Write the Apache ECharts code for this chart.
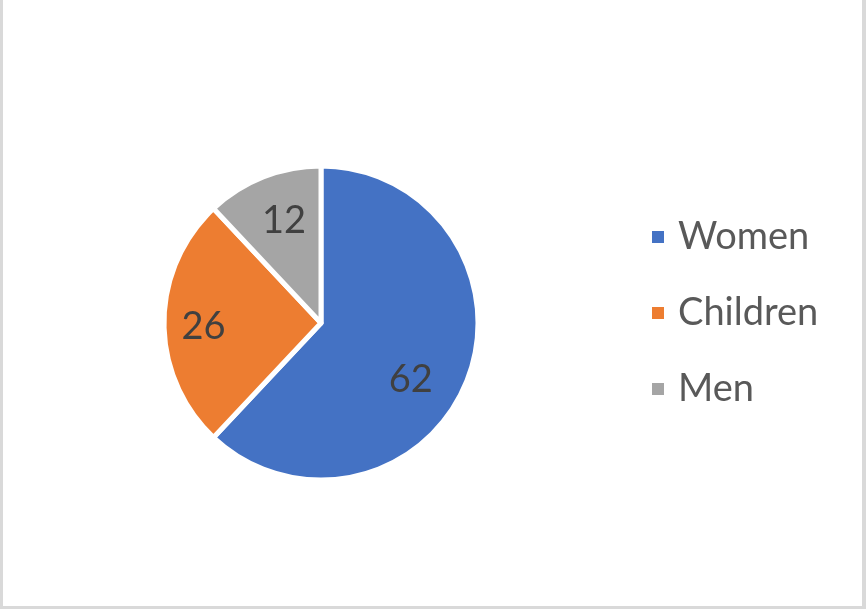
<!DOCTYPE html>
<html><head><meta charset="utf-8">
<script src="https://cdn.jsdelivr.net/npm/echarts@6/dist/echarts.min.js"></script>
<style>
html,body{margin:0;padding:0;background:#fff;}
#wrap{width:866px;height:609px;box-sizing:border-box;border-left:3px solid #d9d9d9;border-right:4px solid #d9d9d9;border-bottom:3px solid #d9d9d9;position:relative;}
#c{position:absolute;left:-3px;top:0;width:866px;height:609px;}
</style></head>
<body><div id="wrap"><div id="c"></div></div>
<script>
const categories = ["Women", "Children", "Men"];
const values = [62, 26, 12];
const colors = ["#4472C4", "#ED7D31", "#A5A5A5"];
const labelShift = [[14, 27], [-36, 4], [-7, -26]];

const chart = echarts.init(document.getElementById('c'));
chart.setOption({
  animation: false,
  textStyle: { fontFamily: 'Lato, "Open Sans", sans-serif' },
  legend: {
    orient: 'vertical',
    left: 645,
    top: 212,
    itemWidth: 14,
    itemHeight: 14,
    itemGap: 36,
    icon: 'rect',
    data: categories,
    textStyle: { fontSize: 38, color: '#595959', lineHeight: 40, padding: [0, 0, 0, 8] }
  },
  series: [{
    type: 'pie',
    center: [321, 323],
    radius: 157,
    startAngle: 90,
    clockwise: true,
    data: categories.map((c, i) => ({ name: c, value: values[i], itemStyle: { color: colors[i] } })),
    itemStyle: { borderColor: '#fff', borderWidth: 5 },
    label: { show: true, position: 'inside', formatter: '{c}', fontSize: 38, color: '#404040' },
    labelLayout: function (p) { return { dx: labelShift[p.dataIndex][0], dy: labelShift[p.dataIndex][1] }; },
    labelLine: { show: false },
    emphasis: { disabled: true }
  }]
});
</script></body></html>
